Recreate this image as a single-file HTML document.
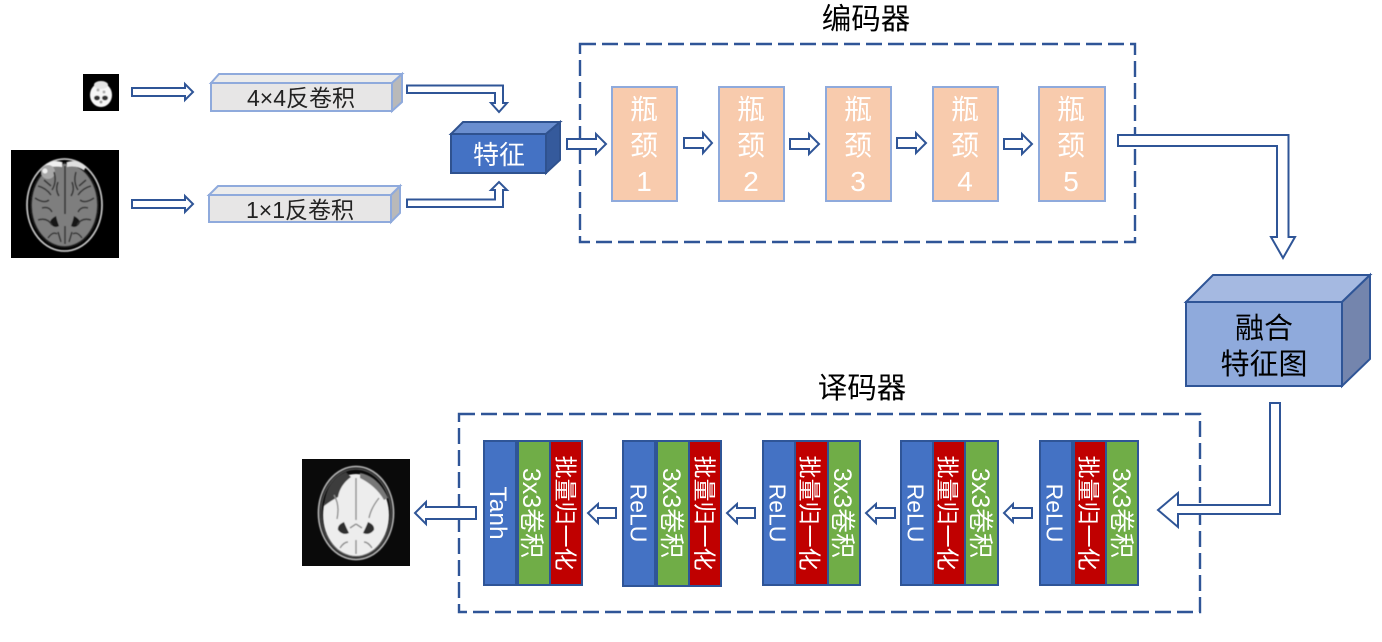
<!DOCTYPE html>
<html lang="zh">
<head>
<meta charset="utf-8">
<title>编码器与译码器结构图</title>
<style>
html,body{margin:0;padding:0;background:#fff;width:1382px;height:642px;overflow:hidden}
svg{display:block}
text{font-family:"Liberation Sans","Noto Sans CJK SC",sans-serif}
.ar{fill:#fff;stroke:#2f5597;stroke-width:2;stroke-linejoin:miter}
.dash{fill:none;stroke:#2f5597;stroke-width:2.4;stroke-dasharray:16 6}
.bn{fill:#f8cbad;stroke:#8faadc;stroke-width:2}
.w{fill:#fff;text-anchor:middle}
.v{fill:#fff;text-anchor:middle}
.s{font-size:28px}
.t{fill:#000;text-anchor:middle}
</style>
</head>
<body>
<svg width="1382" height="642" viewBox="0 0 1382 642" xmlns="http://www.w3.org/2000/svg">
<defs>
<filter id="b1" x="-10%" y="-10%" width="120%" height="120%"><feGaussianBlur stdDeviation="0.5"/></filter>
</defs>
<rect width="1382" height="642" fill="#fff"/>

<!-- small brain -->
<rect x="83" y="74" width="36" height="37" fill="#000"/>
<g filter="url(#b1)">
<ellipse cx="101" cy="95" rx="11" ry="12" fill="#f6f6f6"/>
<ellipse cx="101" cy="85" rx="7" ry="4" fill="#e4e4e4"/>
<ellipse cx="97" cy="98" rx="3" ry="2.400" fill="#333"/>
<ellipse cx="105" cy="98" rx="3" ry="2.400" fill="#333"/>
<circle cx="98" cy="90" r="1.500" fill="#aaa"/>
<circle cx="104" cy="92" r="1.500" fill="#aaa"/>
<circle cx="101" cy="102" r="1.500" fill="#999"/>
</g>

<!-- input brain -->
<rect x="11" y="150" width="108" height="108" fill="#000"/>
<g filter="url(#b1)">
<ellipse cx="64.500" cy="205" rx="37.500" ry="46" fill="none" stroke="#c4c4c4" stroke-width="1.800"/>
<ellipse cx="64.500" cy="205" rx="34.500" ry="43" fill="#1e1e1e"/>
<ellipse cx="64.500" cy="205" rx="32.500" ry="41" fill="#7e7e7e"/>
<path d="M44 166Q52 159 62 162L62 167Q50 165 46 171Z" fill="#f0f0f0"/>
<path d="M67 162Q78 159 86 167L84 170Q76 165 67 167Z" fill="#e0e0e0"/>
<circle cx="48" cy="172" r="7" fill="#a8a8a8"/>
<circle cx="45" cy="171" r="2.500" fill="#f0f0f0"/>
<path d="M65 166V214" stroke="#2a2a2a" stroke-width="1.500" fill="none"/>
<path d="M56 216q-6 3 -6 7q4 6 9 3q-2-5-3-10ZM74 216q6 3 6 7q-4 6-9 3q2-5 3-10Z" fill="#141414"/>
<path d="M35 198q9 6 14 2M38 186q8 2 13 9M94 198q-9 6-14 2M91 186q-8 2-13 9M38 220q9-3 14 5M91 220q-9-3-14 5M54 172q3 10-2 18M76 172q-3 10 2 18M48 238q5-7 9-4M82 238q-5-7-9-4M65 226v18M42 208q7-2 10 4M88 208q-7-2-10 4M58 182q-3 8 1 14M72 182q3 8-1 14M58 232l3 10M72 232l-3 10M44 180l7 6M86 180l-7 6"
 stroke="#333" stroke-width="1.500" fill="none"/>
</g>

<!-- output brain -->
<rect x="302" y="459" width="108" height="107" fill="#0a0a0a"/>
<g filter="url(#b1)">
<ellipse cx="356" cy="513" rx="37.500" ry="46.500" fill="none" stroke="#b0b0b0" stroke-width="1.800"/>
<ellipse cx="356" cy="513" rx="35" ry="44" fill="none" stroke="#4a4a4a" stroke-width="1.500"/>
<ellipse cx="356" cy="515" rx="33" ry="41" fill="#ededed"/>
<path d="M324 506Q326 480 346 472L351 477Q340 485 338 497Q332 500 324 506Z" fill="#3c3c3c"/>
<path d="M360 473Q378 476 388 498L384 500Q376 486 360 478Z" fill="#777"/>
<path d="M344 522q-7 3 -6 8q5 6 11 3q-3-6-5-11ZM368 522q7 3 6 8q-5 6-11 3q3-6 5-11Z" fill="#2e2e2e"/>
<path d="M356 478v42M356 524l-6 4M356 524l6 4M334 495q6 10 3 24M379 498q-8 10-10 20M340 548q4-6 8-6M372 548q-4-6-8-6M356 540v14" stroke="#8c8c8c" stroke-width="1.400" fill="none"/>
</g>

<!-- input arrows -->
<polygon class="ar" points="132,88 185,88 185,84 193,92 185,100 185,96 132,96"/>
<polygon class="ar" points="132,200 185,200 185,196 193,204 185,212 185,208 132,208"/>

<!-- 4x4 box -->
<polygon points="211,83 219,74 402,74 392,83" fill="#ececec" stroke="#8faadc" stroke-width="2"/>
<polygon points="392,83 402,74 402,102 392,111" fill="#b9b9b9" stroke="#8faadc" stroke-width="2"/>
<rect x="211" y="83" width="181" height="28" fill="#e7e6e6" stroke="#8faadc" stroke-width="2"/>
<text class="t" x="301" y="106" font-size="23" style="fill:#222">4×4反卷积</text>

<!-- 1x1 box -->
<polygon points="209,195 218,186 400,186 391,195" fill="#ececec" stroke="#8faadc" stroke-width="2"/>
<polygon points="391,195 400,186 400,213 391,222" fill="#b9b9b9" stroke="#8faadc" stroke-width="2"/>
<rect x="209" y="195" width="182" height="27" fill="#e7e6e6" stroke="#8faadc" stroke-width="2"/>
<text class="t" x="300" y="218" font-size="23" style="fill:#222">1×1反卷积</text>

<!-- merge arrows -->
<polygon class="ar" points="407,85.500 503,85.500 503,103 507,103 499,112 491,103 495,103 495,93 407,93"/>
<polygon class="ar" points="407,207 503,207 503,190 507,190 499,182 491,190 495,190 495,199.500 407,199.500"/>

<!-- dashed groups -->
<rect class="dash" x="580" y="44" width="555" height="198"/>
<rect class="dash" x="459" y="414" width="741" height="198"/>

<!-- feature block -->
<polygon points="451,134 463,122 560,122 546,134" fill="#6a8ecf" stroke="#2f528f" stroke-width="2"/>
<polygon points="546,134 560,122 560,160 546,173" fill="#355a9c" stroke="#2f528f" stroke-width="2"/>
<rect x="451" y="134" width="95" height="39" fill="#4472c4" stroke="#2f528f" stroke-width="2"/>
<text class="w" x="499" y="164" font-size="26">特征</text>

<!-- arrow to encoder -->
<polygon class="ar" points="567,139 596,139 596,134 606,144 596,154 596,149 567,149"/>

<!-- titles -->
<text class="t" x="866" y="29" font-size="29.500">编码器</text>
<text class="t" x="862" y="398" font-size="29.500">译码器</text>

<!-- bottlenecks -->
<rect class="bn" x="612" y="87" width="65" height="114"/>
<text class="w s" x="644" y="119">瓶</text><text class="w s" x="644" y="155">颈</text><text class="w s" x="644" y="191">1</text>
<rect class="bn" x="719" y="87" width="65" height="114"/>
<text class="w s" x="751" y="119">瓶</text><text class="w s" x="751" y="155">颈</text><text class="w s" x="751" y="191">2</text>
<rect class="bn" x="826" y="87" width="65" height="114"/>
<text class="w s" x="858" y="119">瓶</text><text class="w s" x="858" y="155">颈</text><text class="w s" x="858" y="191">3</text>
<rect class="bn" x="933" y="87" width="65" height="114"/>
<text class="w s" x="965" y="119">瓶</text><text class="w s" x="965" y="155">颈</text><text class="w s" x="965" y="191">4</text>
<rect class="bn" x="1039" y="87" width="66" height="114"/>
<text class="w s" x="1071" y="119">瓶</text><text class="w s" x="1071" y="155">颈</text><text class="w s" x="1071" y="191">5</text>

<!-- encoder arrows -->
<polygon class="ar" points="684,138 703,138 703,133 712,143 703,153 703,148 684,148"/>
<polygon class="ar" points="790,139 809,139 809,134 819,144 809,154 809,149 790,149"/>
<polygon class="ar" points="897,138 916,138 916,133 926,143 916,153 916,148 897,148"/>
<polygon class="ar" points="1004,139 1022,139 1022,134 1032,144 1022,154 1022,149 1004,149"/>

<!-- big arrow to fusion -->
<polygon class="ar" points="1118,135 1288.500,135 1288.500,237 1295,237 1283,258 1271,237 1277,237 1277,146 1118,146"/>

<!-- fusion cube -->
<polygon points="1186,302 1213,275 1370,275 1342,302" fill="#a5b9e1" stroke="#2f5597" stroke-width="2"/>
<polygon points="1342,302 1370,275 1370,359 1342,386" fill="#7485ad" stroke="#2f5597" stroke-width="2"/>
<rect x="1186" y="302" width="156" height="84" fill="#8faadc" stroke="#2f5597" stroke-width="2"/>
<text class="t" x="1264" y="338" font-size="29">融合</text>
<text class="t" x="1264" y="374" font-size="29">特征图</text>

<!-- arrow to decoder -->
<polygon class="ar" points="1270,403 1280,403 1280,514 1178,514 1178,527 1158,510 1178,493 1178,505 1270,505"/>

<!-- stack 1 -->
<g transform="translate(1039,440)">
<rect x="0" y="0" width="100" height="146" fill="#2f5597"/>
<rect x="2" y="2" width="30" height="142" fill="#4472c4"/>
<rect x="36" y="2" width="30" height="142" fill="#c00000"/>
<rect x="68" y="2" width="30" height="142" fill="#70ad47"/>
<text class="v" font-size="23" dy=".36em" transform="translate(16,73) rotate(90)">ReLU</text>
<text class="v" font-size="23" dy=".36em" transform="translate(50,73) rotate(90)">批量归一化</text>
<text class="v" font-size="25" dy=".36em" transform="translate(83,73) rotate(90)">3x3卷积</text>
</g>
<!-- stack 2 -->
<g transform="translate(900,440)">
<rect x="0" y="0" width="99" height="146" fill="#2f5597"/>
<rect x="2" y="2" width="30" height="142" fill="#4472c4"/>
<rect x="34" y="2" width="30" height="142" fill="#c00000"/>
<rect x="66" y="2" width="31" height="142" fill="#70ad47"/>
<text class="v" font-size="23" dy=".36em" transform="translate(16,73) rotate(90)">ReLU</text>
<text class="v" font-size="23" dy=".36em" transform="translate(48,73) rotate(90)">批量归一化</text>
<text class="v" font-size="25" dy=".36em" transform="translate(81,73) rotate(90)">3x3卷积</text>
</g>
<!-- stack 3 -->
<g transform="translate(762,440)">
<rect x="0" y="0" width="99" height="146" fill="#2f5597"/>
<rect x="2" y="2" width="30" height="142" fill="#4472c4"/>
<rect x="34" y="2" width="31" height="142" fill="#c00000"/>
<rect x="67" y="2" width="30" height="142" fill="#70ad47"/>
<text class="v" font-size="23" dy=".36em" transform="translate(16,73) rotate(90)">ReLU</text>
<text class="v" font-size="23" dy=".36em" transform="translate(48,73) rotate(90)">批量归一化</text>
<text class="v" font-size="25" dy=".36em" transform="translate(81,73) rotate(90)">3x3卷积</text>
</g>
<!-- stack 4 -->
<g transform="translate(622,440)">
<rect x="0" y="0" width="100" height="147" fill="#2f5597"/>
<rect x="2" y="2" width="30" height="143" fill="#4472c4"/>
<rect x="36" y="2" width="30" height="143" fill="#70ad47"/>
<rect x="68" y="2" width="30" height="143" fill="#c00000"/>
<text class="v" font-size="23" dy=".36em" transform="translate(17,73) rotate(90)">ReLU</text>
<text class="v" font-size="25" dy=".36em" transform="translate(50,73) rotate(90)">3x3卷积</text>
<text class="v" font-size="23" dy=".36em" transform="translate(83,73) rotate(90)">批量归一化</text>
</g>
<!-- stack 5 -->
<g transform="translate(483,440)">
<rect x="0" y="0" width="100" height="146" fill="#2f5597"/>
<rect x="2" y="2" width="30" height="142" fill="#4472c4"/>
<rect x="36" y="2" width="30" height="142" fill="#70ad47"/>
<rect x="68" y="2" width="30" height="142" fill="#c00000"/>
<text class="v" font-size="24.500" dy=".36em" transform="translate(16,73) rotate(90)">Tanh</text>
<text class="v" font-size="25" dy=".36em" transform="translate(49,73) rotate(90)">3x3卷积</text>
<text class="v" font-size="23" dy=".36em" transform="translate(83,73) rotate(90)">批量归一化</text>
</g>

<!-- decoder small arrows -->
<polygon class="ar" points="1032,508 1013,508 1013,504 1004,513 1013,522 1013,518 1032,518"/>
<polygon class="ar" points="895,508 876,508 876,504 866,513 876,523 876,518 895,518"/>
<polygon class="ar" points="755,508 737,508 737,504 727,513 737,523 737,518 755,518"/>
<polygon class="ar" points="616,508 598,508 598,504 588,513 598,523 598,518 616,518"/>
<polygon class="ar" points="476,507 426,507 426,502 415,513 426,524 426,519 476,519"/>
</svg>
</body>
</html>
